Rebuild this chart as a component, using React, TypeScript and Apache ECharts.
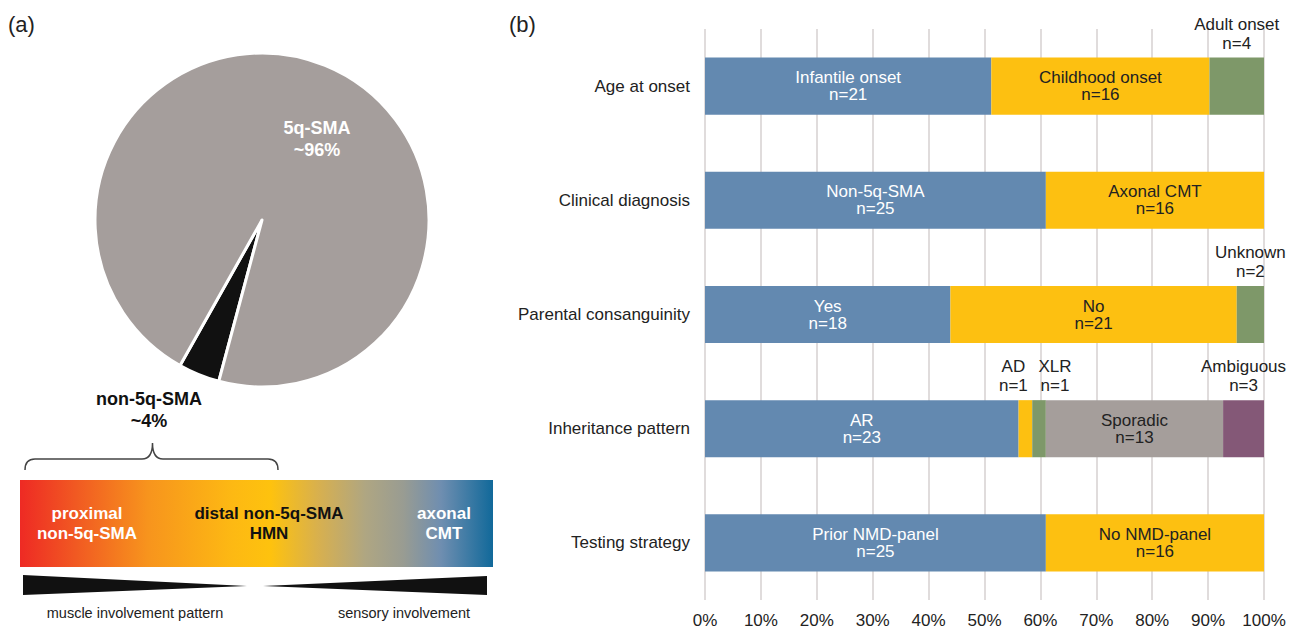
import React, { useEffect, useRef } from "react";
import * as echarts from "echarts";

const FONT = "'Liberation Sans', Arial, Helvetica, sans-serif";

// ---- panel (b) data ----
const categories = [
  "Age at onset",
  "Clinical diagnosis",
  "Parental consanguinity",
  "Inheritance pattern",
  "Testing strategy",
];
const ageOnsetNames = ["Infantile onset", "Childhood onset", "Adult onset"];
const ageOnsetCounts = [21, 16, 4];
const diagnosisNames = ["Non-5q-SMA", "Axonal CMT"];
const diagnosisCounts = [25, 16];
const consanguinityNames = ["Yes", "No", "Unknown"];
const consanguinityCounts = [18, 21, 2];
const inheritanceNames = ["AR", "AD", "XLR", "Sporadic", "Ambiguous"];
const inheritanceCounts = [23, 1, 1, 13, 3];
const testingNames = ["Prior NMD-panel", "No NMD-panel"];
const testingCounts = [25, 16];
const xTicks = [0, 10, 20, 30, 40, 50, 60, 70, 80, 90, 100];

// ---- panel (a) data ----
const pieNames = ["non-5q-SMA", "5q-SMA"];
const pieValues = [4, 96];
const pieTexts = ["~4%", "~96%"];

const segColors = ["#6389B0", "#FDC011", "#7E9869", "#A59E9B", "#845877"];
const segTextColors = ["#ffffff", "#222222", "#ffffff", "#222222", "#ffffff"];

const allNames = [ageOnsetNames, diagnosisNames, consanguinityNames, inheritanceNames, testingNames];
const allCounts = [ageOnsetCounts, diagnosisCounts, consanguinityCounts, inheritanceCounts, testingCounts];

const outsideOffset: Record<string, number[]> = {
  AD: [-12, 0],
  XLR: [16, 0],
};

function buildBarSeries() {
  const series: any[] = [];
  for (let s = 0; s < 5; s++) {
    const data = categories.map((_, j) => {
      const counts = allCounts[j];
      const names = allNames[j];
      if (s >= counts.length) return "-";
      const total = counts.reduce((a, b) => a + b, 0);
      const c = counts[s];
      const small = c <= 4;
      return {
        value: (c / total) * 100,
        segName: names[s],
        count: c,
        label: small
          ? {
              position: "top",
              distance: 5,
              color: "#222",
              lineHeight: 19,
              offset: outsideOffset[names[s]] || [0, 0],
            }
          : { position: "inside", color: segTextColors[s], lineHeight: 17 },
      };
    });
    series.push({
      type: "bar",
      stack: "total",
      barWidth: "50%",
      silent: true,
      xAxisIndex: 0,
      yAxisIndex: 0,
      itemStyle: { color: segColors[s] },
      label: {
        show: true,
        fontFamily: FONT,
        fontSize: 17,
        formatter: (p: any) => `${p.data.segName}\nn=${p.data.count}`,
      },
      data,
    });
  }
  return series;
}

const bracePath =
  "M25,470 Q25,459 35,459 L142,459 Q152.5,459 152.5,443 Q152.5,459 163,459 L268,459 Q278,459 278,470";

export default function App() {
  const ref = useRef<HTMLDivElement>(null);
  useEffect(() => {
    document.body.style.margin = "0";
    document.body.style.overflow = "hidden";
    if (!ref.current) return;
    try {
      echarts.graphic.registerShape("brace", echarts.graphic.extendPath(bracePath, {}) as any);
    } catch (e) {}
    const chart = echarts.init(ref.current, undefined, { renderer: "svg" });
    const option: any = {
      animation: false,
      textStyle: { fontFamily: FONT },
      grid: { left: 705, right: 32, top: 29, bottom: 28, containLabel: false },
      xAxis: {
        type: "value",
        min: 0,
        max: 100,
        interval: 10,
        axisLine: { show: false },
        axisTick: { show: false },
        splitLine: { show: true, lineStyle: { color: "#D6D1D1", width: 1.5 } },
        axisLabel: {
          fontSize: 17,
          color: "#222",
          margin: 12,
          fontFamily: FONT,
          formatter: (v: number) => (xTicks.includes(v) ? `${v}%` : ""),
        },
      },
      yAxis: {
        type: "category",
        data: categories,
        inverse: true,
        axisLine: { show: false },
        axisTick: { show: false },
        splitLine: { show: false },
        axisLabel: { fontSize: 17, color: "#222", margin: 15, fontFamily: FONT },
      },
      series: [
        ...buildBarSeries(),
        {
          type: "pie",
          center: [262, 220],
          radius: 167,
          startAngle: 255,
          clockwise: true,
          silent: true,
          avoidLabelOverlap: false,
          itemStyle: { borderColor: "#ffffff", borderWidth: 3 },
          label: {
            show: true,
            fontFamily: FONT,
            fontWeight: "bold",
            fontSize: 18,
            lineHeight: 22,
            formatter: (p: any) => `${p.name}\n${pieTexts[p.dataIndex]}`,
          },
          labelLine: { show: false },
          labelLayout: (p: any) =>
            p.dataIndex === 0
              ? { x: 149, y: 410, align: "center", verticalAlign: "middle" }
              : { x: 317, y: 139, align: "center", verticalAlign: "middle" },
          data: pieNames.map((n, i) => ({
            name: n,
            value: pieValues[i],
            itemStyle: { color: i === 0 ? "#111111" : "#A59E9C" },
            label:
              i === 0
                ? { position: "outside", color: "#111" }
                : { position: "inside", color: "#ffffff" },
          })),
        },
      ],
      graphic: [
        {
          type: "text",
          left: 8,
          top: 13,
          style: { text: "(a)", fontSize: 22, fill: "#222", fontFamily: FONT },
        },
        {
          type: "text",
          left: 509,
          top: 13,
          style: { text: "(b)", fontSize: 22, fill: "#222", fontFamily: FONT },
        },
        {
          type: "brace",
          style: { stroke: "#444", lineWidth: 1.5, fill: "none" },
        },
        {
          type: "rect",
          shape: { x: 20, y: 480, width: 473, height: 87 },
          style: {
            fill: new echarts.graphic.LinearGradient(0, 0, 1, 0, [
              { offset: 0, color: "#EE2A24" },
              { offset: 0.12, color: "#F15A22" },
              { offset: 0.27, color: "#F7941D" },
              { offset: 0.45, color: "#FDB913" },
              { offset: 0.53, color: "#FEC20E" },
              { offset: 0.63, color: "#D8B04E" },
              { offset: 0.73, color: "#AFA682" },
              { offset: 0.81, color: "#999C92" },
              { offset: 0.89, color: "#6F8EB0" },
              { offset: 1, color: "#11699A" },
            ]),
          },
        },
        {
          type: "text",
          x: 87,
          y: 523,
          style: {
            text: "proximal\nnon-5q-SMA",
            fontSize: 17,
            fontWeight: "bold",
            lineHeight: 20,
            fill: "#ffffff",
            align: "center",
            verticalAlign: "middle",
            fontFamily: FONT,
          },
        },
        {
          type: "text",
          x: 269,
          y: 523,
          style: {
            text: "distal non-5q-SMA\nHMN",
            fontSize: 17,
            fontWeight: "bold",
            lineHeight: 20,
            fill: "#111",
            align: "center",
            verticalAlign: "middle",
            fontFamily: FONT,
          },
        },
        {
          type: "text",
          x: 444,
          y: 523,
          style: {
            text: "axonal\nCMT",
            fontSize: 17,
            fontWeight: "bold",
            lineHeight: 20,
            fill: "#ffffff",
            align: "center",
            verticalAlign: "middle",
            fontFamily: FONT,
          },
        },
        {
          type: "polygon",
          shape: { points: [[23, 575], [23, 595], [247, 586]] },
          style: { fill: "#111" },
        },
        {
          type: "polygon",
          shape: { points: [[263, 586], [487, 576], [487, 595]] },
          style: { fill: "#111" },
        },
        {
          type: "text",
          x: 135,
          y: 613,
          style: {
            text: "muscle involvement pattern",
            fontSize: 14.5,
            fill: "#222",
            align: "center",
            verticalAlign: "middle",
            fontFamily: FONT,
          },
        },
        {
          type: "text",
          x: 404,
          y: 613,
          style: {
            text: "sensory involvement",
            fontSize: 14.5,
            fill: "#222",
            align: "center",
            verticalAlign: "middle",
            fontFamily: FONT,
          },
        },
      ],
    };
    chart.setOption(option);
    return () => chart.dispose();
  }, []);
  return <div ref={ref} style={{ width: 1296, height: 629 }} />;
}
